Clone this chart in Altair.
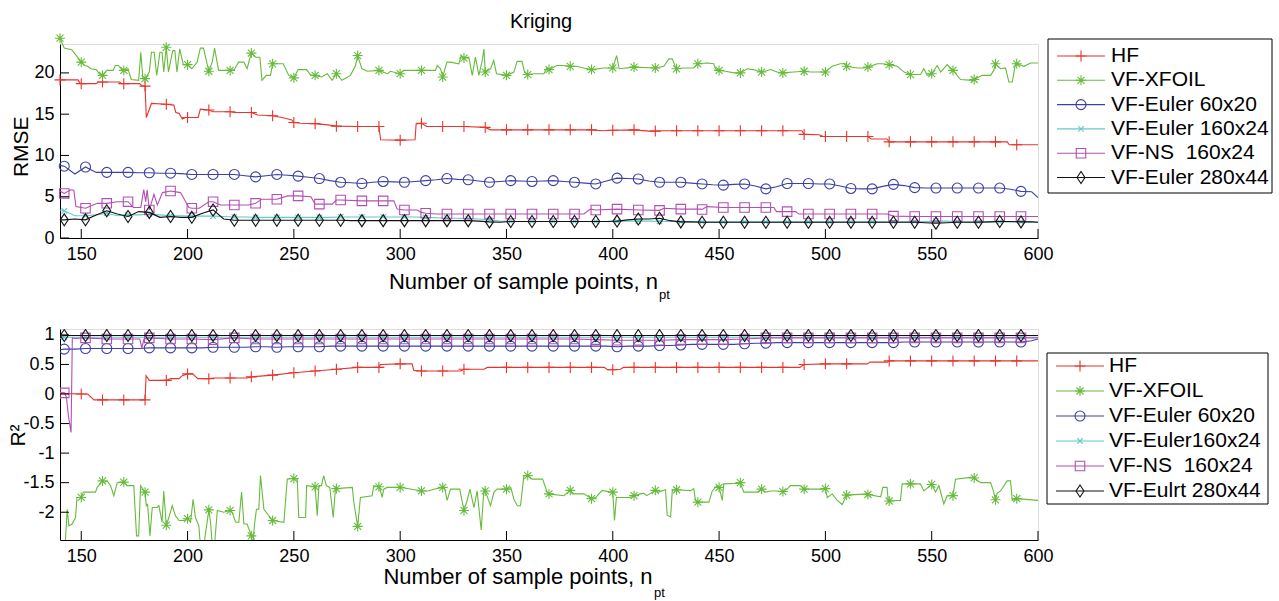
import altair as alt
import pandas as pd

FONT = "Liberation Sans"
W, H1, H2 = 978, 194, 211

X_TICKS = [150, 200, 250, 300, 350, 400, 450, 500, 550, 600]
Y1_TICKS = [0, 5, 10, 15, 20]
Y2_TICKS = [-2, -1.5, -1, -0.5, 0, 0.5, 1]

NAMES_TOP = ["HF", "VF-XFOIL", "VF-Euler 60x20", "VF-Euler 160x24", "VF-NS\u00a0 160x24", "VF-Euler 280x44"]
NAMES_BOT = ["HF", "VF-XFOIL", "VF-Euler 60x20", "VF-Euler160x24", "VF-NS\u00a0 160x24", "VF-Eulrt 280x44"]
COLORS = ["#e8342c", "#66bb3c", "#3c40a2", "#66c8c8", "#b24fb2", "#111111"]
SHAPES = [
    ("M-1,0L1,0M0,-1L0,1", 121),
    ("M-1,0L1,0M0,-1L0,1M-0.7,-0.7L0.7,0.7M-0.7,0.7L0.7,-0.7", 100),
    ("circle", 100),
    ("M-1,-1L1,1M-1,1L1,-1", 30),
    ("square", 90),
    ("M0,-1L0.66,0L0,1L-0.66,0Z", 144),
]

# common x grid for the smoother series (markers every 10 from 142)
X_GRID = [140] + list(range(142, 598, 5)) + [600]

# ---------------- RMSE panel ----------------
HF_TOP = [(140, 19.15), (148.5, 19.15), (149.5, 18.7), (150, 18.7), (157, 18.7), (158, 18.9), (160, 18.9),
          (168, 18.9), (169, 18.7), (170, 18.7), (177.5, 18.7), (178.5, 18.45), (180, 18.4), (180.6, 14.6),
          (183, 16.3), (190, 16.2), (193.5, 16.1), (194.5, 15.2), (196, 15.1), (197.5, 14.4), (199, 14.6),
          (200, 14.6), (205, 14.6), (206, 15.6), (210, 15.5), (212, 15.3), (220, 15.3), (222, 15.2),
          (230, 15.2), (233, 14.9), (240, 14.8), (246, 14.5), (249, 14.3), (250, 14.0), (253, 13.9),
          (260, 13.85), (266, 13.7), (270, 13.55), (280, 13.5), (290, 13.5), (290.8, 11.9), (300, 11.85),
          (307, 11.9), (307.5, 13.8), (310, 13.9), (312.5, 13.5), (320, 13.5), (330, 13.5), (340, 13.4),
          (342.5, 13.1), (350, 13.1), (360, 13.1), (370, 13.1), (380, 13.1), (390, 13.1), (395, 13.0),
          (400, 13.05), (410, 13.1), (417, 12.95), (420, 12.95), (424, 13.0), (430, 13.0), (440, 13.0),
          (450, 13.0), (460, 13.0), (470, 13.0), (480, 13.0), (489, 13.0), (490, 12.55), (497, 12.5),
          (499, 12.3), (500, 12.3), (510, 12.3), (520, 12.3), (521.5, 12.0), (529, 12.0), (530, 11.65),
          (540, 11.65), (550, 11.65), (560, 11.65), (570, 11.65), (580, 11.65), (585.5, 11.65),
          (586.5, 11.3), (590, 11.3), (600, 11.3)]

XFOIL_TOP = [(140, 24.2), (142, 23.0), (145.5, 22.8), (148, 22.0), (150, 21.3), (151.5, 20.9), (153, 20.8),
             (154.5, 20.5), (157, 20.4), (158.5, 19.9), (160, 19.7), (162, 20.3), (165, 20.3), (166, 20.9),
             (167.5, 20.9), (169, 20.4), (170, 20.3), (172, 20.5), (173.5, 19.2), (177, 19.1), (178, 22.5),
             (179, 19.3), (180, 19.3), (182, 20.1), (183, 22.5), (184.3, 22.5), (185.5, 19.7), (187, 22.5),
             (188, 22.5), (188.8, 20.1), (190, 23.1), (191, 20.1), (193, 22.7), (194, 22.7), (195, 20.1),
             (196.3, 22.9), (198, 21.0), (200, 21.0), (202, 20.5), (204.5, 21.3), (206, 23.0), (207.5, 23.0),
             (209, 21.3), (210, 20.2), (211.6, 21.3), (212.7, 23.0), (214.6, 20.3), (218, 20.3), (220, 20.3),
             (222, 20.4), (224, 21.3), (226.5, 21.3), (228, 20.5), (229, 21.5), (230, 22.4), (232, 21.9),
             (234, 21.9), (235, 19.1), (237, 19.7), (239, 19.7), (240, 21.1), (245, 21.1), (247.6, 19.7),
             (250, 19.4), (252, 20.4), (256, 20.4), (258, 19.7), (260, 19.7), (263, 19.5), (265.7, 19.9),
             (268, 19.1), (270, 19.9), (272.6, 19.1), (276.6, 19.7), (279, 20.9), (280, 22.1), (282, 20.5),
             (284.5, 20.2), (290, 20.3), (294, 19.9), (295.4, 20.2), (300, 19.9), (301.7, 20.3), (308, 20.3),
             (310, 20.3), (316.6, 20.3), (317.4, 20.9), (319, 20.5), (320, 19.5), (322, 21.3), (323.6, 21.3),
             (327.6, 21.1), (328.7, 22.1), (330, 21.8), (332.3, 21.9), (333.9, 19.7), (335.4, 21.9),
             (337, 19.7), (338.6, 21.5), (339.4, 22.9), (340, 20.1), (342.5, 20.5), (344, 21.5), (345.3, 19.9),
             (350, 19.7), (353.5, 20.1), (355, 21.4), (357.3, 21.4), (358.5, 20.1), (360, 19.8), (363, 19.9),
             (367.6, 19.9), (369, 20.6), (370, 20.4), (373.8, 20.9), (377, 20.9), (380, 20.8), (383, 20.8),
             (386.3, 20.6), (390, 20.4), (395.8, 20.6), (400, 20.6), (401.8, 22.1), (403, 20.5), (410, 20.7),
             (420, 20.6), (424, 20.8), (426.4, 21.7), (428, 21.7), (429.5, 20.7), (430, 20.5), (433, 20.6),
             (438, 20.6), (440, 21.1), (444.4, 21.2), (447.5, 21.1), (448.3, 20.5), (450, 20.3), (453, 20.2),
             (457, 20.0), (460, 20.0), (463.2, 20.5), (466, 20.4), (470, 20.1), (474.2, 20.4), (477.3, 20.1),
             (480, 20.0), (485, 20.1), (490, 20.2), (493, 20.1), (500, 20.1), (503.2, 20.8), (507, 21.1),
             (509.5, 21.1), (510, 20.8), (515, 20.6), (518, 20.6), (520, 20.7), (524.4, 21.1), (526.7, 21.1),
             (530, 21.0), (533.8, 20.8), (537, 20.1), (540, 19.8), (544.8, 19.8), (546.3, 20.5), (547.9, 19.7),
             (550, 19.9), (552.6, 20.9), (554.2, 20.1), (557.3, 21.0), (558.9, 20.5), (560, 20.3),
             (563.6, 19.2), (569, 19.1), (570, 19.2), (573.8, 19.7), (577.7, 19.7), (579.2, 20.3), (580, 21.1),
             (582.4, 20.5), (584.7, 20.6), (586.3, 18.9), (587.9, 18.9), (589.4, 21.1), (590, 21.1),
             (593.4, 20.8), (596.5, 21.2), (600, 21.2)]

E60_TOP = [8.8, 8.7, 7.75, 8.6, 7.95, 7.95, 7.95, 7.95, 7.9, 7.9,
           7.85, 7.85, 7.8, 7.7, 7.7, 7.7, 7.7, 7.7, 7.55, 7.4,
           7.55, 7.7, 7.6, 7.5, 7.35, 7.2, 6.95, 6.75, 6.7, 6.6,
           6.75, 6.85, 6.8, 6.75, 6.85, 6.95, 7.05, 7.2, 7.1, 7.05,
           6.9, 6.75, 6.85, 6.95, 6.9, 6.85, 6.9, 6.95, 6.85, 6.75,
           6.65, 6.55, 6.9, 7.25, 7.2, 7.15, 6.9, 6.75, 6.75, 6.75,
           6.65, 6.55, 6.45, 6.4, 6.5, 6.55, 6.3, 5.95, 6.2, 6.6,
           6.6, 6.6, 6.55, 6.55, 6.3, 6.0, 5.95, 5.95, 6.25, 6.5,
           6.35, 6.1, 6.05, 6.05, 6.05, 6.05, 6.05, 6.05, 6.05, 6.05,
           5.9, 5.65, 5.6, 4.9]

E160_TOP = [3.4, 3.3, 2.7, 2.7, 2.8, 3.0, 2.7, 2.8, 2.8, 2.9,
            2.8, 2.7, 2.7, 2.65, 2.65, 2.65, 2.6, 2.55, 2.55, 2.5,
            2.5, 2.5, 2.5, 2.5, 2.5, 2.5, 2.5, 2.55, 2.55, 2.55,
            2.55, 2.55, 2.55, 2.55, 2.55, 2.5, 2.45, 2.4, 2.4, 2.35,
            2.3, 2.2, 2.05, 2.0, 2.0, 2.0, 2.0, 2.0, 2.0, 2.0,
            2.0, 2.0, 2.0, 2.0, 2.05, 2.05, 2.05, 2.0, 2.0, 1.95,
            1.95, 1.95, 1.95, 1.95, 1.95, 1.95, 1.95, 1.95, 1.95, 1.95,
            1.95, 1.95, 1.95, 1.95, 1.95, 1.95, 1.95, 1.95, 1.95, 1.95,
            1.95, 2.0, 2.0, 2.05, 2.05, 2.0, 1.95, 1.95, 1.95, 1.95,
            1.95, 1.95, 1.95, 1.9]

NS_TOP = [(140, 5.7), (142, 5.4), (145, 5.85), (146.5, 5.8), (147.5, 3.8), (152, 3.6), (157.5, 4.2), (162, 4.2),
          (167, 4.4), (172, 4.4), (174.5, 3.7), (178, 3.7), (179.4, 5.85), (180.3, 4.4), (181, 5.85),
          (182, 3.4), (184.2, 5.3), (185.8, 4.0), (188.2, 5.5), (192, 5.7), (196.7, 5.5), (199.1, 4.4),
          (200.6, 3.7), (202, 3.6), (205.5, 3.6), (210, 4.4), (212, 4.4), (215.5, 4.0), (222, 4.0),
          (228.6, 4.0), (232, 4.2), (234.8, 4.7), (242, 4.7), (247, 5.1), (252, 5.1), (258, 5.0),
          (260, 4.1), (262, 4.1), (268, 4.1), (270, 4.6), (272, 4.6), (282, 4.5), (292, 4.5), (297, 4.5),
          (298.6, 3.5), (302, 3.4), (308, 3.4), (310, 3.1), (312, 3.0), (317, 2.9), (322, 2.9), (332, 2.9),
          (342, 2.9), (352, 2.9), (362, 2.9), (372, 2.9), (382, 2.9), (386.4, 2.9), (389.5, 3.5), (392, 3.4),
          (402, 3.5), (412, 3.4), (422, 3.35), (424, 3.6), (432, 3.5), (441.3, 3.5), (442, 3.45),
          (444.4, 3.8), (452, 3.7), (462, 3.7), (472, 3.7), (475.8, 3.7), (477, 3.2), (482, 3.2), (486, 3.2),
          (487.5, 2.9), (492, 2.9), (502, 2.9), (512, 2.9), (522, 2.9), (529, 2.9), (532, 2.65), (542, 2.6),
          (552, 2.6), (562, 2.6), (572, 2.6), (582, 2.6), (592, 2.6), (600, 2.6)]

E280_TOP = [2.2, 2.2, 2.3, 2.2, 2.8, 3.3, 2.9, 2.6, 3.2, 3.1,
            2.5, 2.6, 2.5, 2.5, 3.0, 3.4, 2.3, 2.15, 2.15, 2.15,
            2.15, 2.15, 2.15, 2.15, 2.15, 2.15, 2.15, 2.15, 2.1, 2.1,
            2.1, 2.1, 2.1, 2.1, 2.1, 2.1, 2.1, 2.1, 2.1, 2.1,
            2.05, 1.95, 1.9, 2.0, 2.0, 2.0, 2.0, 2.0, 2.0, 2.0,
            2.0, 2.0, 2.0, 2.05, 2.2, 2.3, 2.3, 2.4, 2.1, 1.95,
            1.95, 1.9, 1.9, 1.9, 1.9, 1.9, 1.9, 1.9, 1.9, 1.9,
            1.9, 1.9, 1.9, 1.9, 1.9, 1.9, 1.9, 1.9, 1.9, 1.9,
            1.9, 1.9, 1.85, 1.8, 1.85, 1.9, 1.9, 1.9, 1.95, 2.0,
            2.0, 1.95, 1.95, 1.9]

# ---------------- R^2 panel ----------------
HF_BOT = [(140, 0.01), (150, 0.0), (153, 0.0), (156, -0.1), (160, -0.1), (170, -0.1), (180, -0.1),
          (180.5, 0.31), (182, 0.23), (190, 0.23), (192, 0.26), (196, 0.26), (197.5, 0.31), (200, 0.34),
          (202.4, 0.34), (204.8, 0.26), (210, 0.26), (212.3, 0.27), (220, 0.27), (228, 0.27), (230, 0.29),
          (240, 0.32), (250, 0.36), (260, 0.39), (270, 0.42), (280, 0.45), (290, 0.45), (290.7, 0.5),
          (300, 0.51), (305.6, 0.51), (306.4, 0.4), (310, 0.39), (320, 0.39), (328.4, 0.39), (330, 0.42),
          (339.4, 0.42), (341, 0.45), (350, 0.45), (360, 0.45), (370, 0.45), (380, 0.45), (390, 0.45),
          (396, 0.45), (397.5, 0.41), (400, 0.41), (403.6, 0.42), (405, 0.45), (410, 0.45), (420, 0.45),
          (430, 0.45), (440, 0.45), (450, 0.45), (460, 0.45), (470, 0.45), (480, 0.45), (488, 0.45),
          (490, 0.5), (500, 0.51), (510, 0.51), (519.7, 0.51), (521, 0.54), (529, 0.54), (530, 0.56),
          (540, 0.56), (550, 0.56), (560, 0.56), (570, 0.56), (580, 0.56), (590, 0.56), (600, 0.56)]

XFOIL_BOT = [(140, -2.6), (142.5, -2.5), (143.4, -1.95), (144.2, -2.23), (145.7, -2.2), (147.3, -2.09),
             (148, -1.75), (150, -1.75), (151, -1.66), (156.7, -1.66), (157.5, -1.58), (160, -1.47),
             (160.8, -1.5), (162.2, -1.47), (163.8, -1.55), (165.3, -1.72), (166.9, -1.5), (170, -1.49),
             (171.6, -1.55), (174.7, -1.55), (176, -2.4), (177, -2.4), (177.9, -1.55), (180, -1.66),
             (180.6, -1.89), (181.2, -1.87), (182.3, -2.4), (183.4, -1.92), (185.7, -1.92), (186.5, -1.89),
             (188, -2.17), (188.8, -1.64), (190, -2.22), (191.2, -2.09), (192.8, -1.89), (194.3, -2.06),
             (196, -2.14), (198.3, -2.14), (200, -2.11), (201.4, -2.17), (202.6, -1.78), (203.7, -2.09),
             (205.3, -2.23), (206, -2.55), (207.7, -2.55), (210, -1.96), (210.8, -2.17), (211.6, -2.55),
             (212.7, -2.55), (214, -1.97), (217, -2.0), (220, -1.97), (221, -2.0), (222.6, -2.17),
             (224.1, -2.17), (225.4, -1.66), (226.5, -2.2), (228, -2.2), (230, -2.4), (230.8, -2.55),
             (231.4, -2.23), (232.4, -1.95), (233.5, -1.95), (234.3, -1.38), (235.9, -1.95), (240, -2.14),
             (245.3, -2.17), (246.9, -1.44), (250, -1.43), (251.6, -1.44), (252.3, -2.09), (255.5, -2.09),
             (256, -1.55), (260, -1.57), (261, -2.06), (261.8, -1.55), (263, -1.55), (264, -1.38),
             (265.3, -1.55), (266.9, -1.58), (268.5, -2.09), (269.6, -1.58), (270, -1.6), (277.5, -1.58),
             (278.2, -1.83), (280, -2.24), (281.3, -1.75), (286.8, -1.72), (287.6, -1.55), (290, -1.57),
             (290.8, -1.64), (291.5, -1.75), (292.3, -1.61), (293.9, -1.58), (300, -1.58), (303.4, -1.6),
             (310, -1.64), (313, -1.64), (315.8, -1.61), (320, -1.58), (321, -1.61), (322.1, -1.8),
             (323.7, -1.61), (328, -1.61), (330, -1.97), (331.5, -1.8), (332.8, -1.61), (334.7, -1.92),
             (336.2, -1.64), (338.1, -2.3), (339.4, -1.61), (340, -1.64), (342.5, -1.89), (344.1, -1.66),
             (345.6, -1.61), (350, -1.61), (352, -1.58), (353.5, -1.78), (355.1, -1.89), (356.6, -1.89),
             (358.2, -1.38), (360, -1.38), (362, -1.44), (367, -1.44), (369.1, -1.66), (370, -1.69),
             (377, -1.72), (380, -1.63), (381, -1.69), (386.4, -1.69), (390, -1.77), (392, -1.75),
             (395, -1.63), (399, -1.66), (400, -1.66), (400.8, -2.14), (401.7, -1.75), (408.3, -1.75),
             (410, -1.72), (413, -1.69), (414.6, -1.68), (416, -1.72), (420, -1.63), (421.5, -1.66),
             (424.8, -1.62), (425.6, -2.05), (427.2, -2.08), (428, -1.63), (430, -1.62), (436.6, -1.635),
             (438.1, -1.6), (438.9, -1.8), (440, -1.83), (445.2, -1.83), (446.8, -1.64), (449.1, -1.55),
             (450, -1.58), (451.5, -1.8), (452.2, -1.52), (459.3, -1.51), (460, -1.5), (461.6, -1.66),
             (467.9, -1.66), (470, -1.61), (471.8, -1.66), (474.2, -1.64), (477.3, -1.64), (480, -1.65),
             (482, -1.61), (483.6, -1.55), (488.3, -1.55), (490, -1.61), (498.5, -1.61), (500, -1.6),
             (500.9, -1.75), (503.2, -1.69), (505.6, -1.8), (507.9, -1.87), (510, -1.71), (519.7, -1.69),
             (520, -1.7), (526, -1.74), (527, -1.58), (529, -1.58), (529.5, -1.78), (530, -1.81),
             (535.3, -1.8), (536.1, -1.52), (540, -1.52), (544.7, -1.52), (546.3, -1.64), (550, -1.53),
             (551.8, -1.66), (553.4, -1.55), (555.7, -1.86), (557.3, -1.72), (560, -1.72), (561.2, -1.44),
             (568.3, -1.41), (570, -1.42), (573, -1.5), (577.7, -1.5), (579.2, -1.66), (580, -1.79),
             (580.8, -1.68), (582.4, -1.64), (585.5, -1.47), (587.1, -1.47), (587.9, -1.8), (590, -1.77),
             (600, -1.8)]

E60_BOT = [0.75, 0.76, 0.76, 0.77, 0.77, 0.77, 0.77, 0.77, 0.77, 0.78,
           0.78, 0.78, 0.78, 0.78, 0.78, 0.79, 0.79, 0.79, 0.79, 0.8,
           0.8, 0.79, 0.8, 0.8, 0.8, 0.8, 0.81, 0.81, 0.81, 0.81,
           0.81, 0.81, 0.81, 0.81, 0.81, 0.81, 0.81, 0.81, 0.81, 0.81,
           0.81, 0.81, 0.81, 0.81, 0.81, 0.81, 0.81, 0.81, 0.81, 0.81,
           0.81, 0.81, 0.81, 0.8, 0.81, 0.81, 0.81, 0.82, 0.82, 0.83,
           0.84, 0.84, 0.84, 0.84, 0.84, 0.85, 0.86, 0.86, 0.87, 0.87,
           0.87, 0.87, 0.87, 0.87, 0.87, 0.87, 0.87, 0.87, 0.87, 0.87,
           0.88, 0.88, 0.88, 0.88, 0.88, 0.88, 0.88, 0.88, 0.88, 0.88,
           0.88, 0.88, 0.9, 0.93]

E160_BOT = [0.94, 0.96, 0.96, 0.96, 0.96, 0.96, 0.96, 0.96, 0.96, 0.96,
            0.96, 0.96, 0.96, 0.96, 0.96, 0.96, 0.96, 0.96, 0.96, 0.96,
            0.96, 0.96, 0.96, 0.96, 0.96, 0.96, 0.96, 0.96, 0.96, 0.96,
            0.96, 0.96, 0.96, 0.96, 0.96, 0.96, 0.96, 0.96, 0.96, 0.96,
            0.96, 0.96, 0.96, 0.96, 0.96, 0.96, 0.96, 0.96, 0.96, 0.96,
            0.96, 0.96, 0.96, 0.96, 0.96, 0.96, 0.96, 0.96, 0.96, 0.96,
            0.96, 0.96, 0.96, 0.96, 0.96, 0.96, 0.96, 0.96, 0.96, 0.96,
            0.96, 0.96, 0.96, 0.96, 0.96, 0.96, 0.96, 0.96, 0.96, 0.96,
            0.96, 0.96, 0.96, 0.96, 0.96, 0.96, 0.96, 0.96, 0.96, 0.96,
            0.96, 0.96, 0.96, 0.96]

NS_BOT = [(140, 0.02), (142, 0.02), (143, -0.05), (144, -0.38), (145.2, -0.65), (145.8, 0.95), (147, 0.94),
          (152, 0.95), (162, 0.93), (172, 0.93), (177.5, 0.93), (178.5, 0.78), (179.5, 0.93), (182, 0.95),
          (192, 0.93), (202, 0.93), (212, 0.92), (222, 0.95), (232, 0.93), (242, 0.93), (252, 0.93),
          (262, 0.93), (272, 0.93), (282, 0.93), (292, 0.93), (302, 0.93), (312, 0.93), (322, 0.93),
          (332, 0.93), (342, 0.93), (352, 0.93), (362, 0.93), (372, 0.93), (382, 0.93), (392, 0.92),
          (402, 0.91), (412, 0.91), (422, 0.91), (432, 0.92), (442, 0.92), (452, 0.92), (462, 0.93),
          (472, 0.95), (482, 0.95), (492, 0.95), (502, 0.95), (512, 0.95), (522, 0.95), (532, 0.95),
          (542, 0.95), (552, 0.95), (562, 0.95), (572, 0.95), (582, 0.95), (592, 0.95), (600, 0.95)]

E280_BOT = [0.98, 0.99, 0.99, 0.99, 0.99, 0.99, 0.99, 0.99, 0.99, 0.99,
            0.99, 0.99, 0.99, 0.99, 0.99, 0.99, 0.99, 0.99, 0.99, 0.99,
            0.99, 0.99, 0.99, 0.99, 0.99, 0.99, 0.99, 0.99, 0.99, 0.99,
            0.99, 0.99, 0.99, 0.99, 0.99, 0.99, 0.99, 0.99, 0.99, 0.99,
            0.99, 0.99, 0.99, 0.99, 0.99, 0.99, 0.99, 0.99, 0.99, 0.99,
            0.99, 0.99, 0.99, 0.99, 0.99, 0.99, 0.99, 0.99, 0.99, 0.99,
            0.99, 0.99, 0.99, 0.99, 0.99, 0.99, 0.99, 0.99, 0.99, 0.99,
            0.99, 0.99, 0.99, 0.99, 0.99, 0.99, 0.99, 0.99, 0.99, 0.99,
            0.99, 0.99, 0.99, 0.99, 0.99, 0.99, 0.99, 0.99, 0.99, 0.99,
            0.99, 0.99, 0.99, 0.99]

for arr in (E60_TOP, E160_TOP, E280_TOP, E60_BOT, E160_BOT, E280_BOT):
    assert len(arr) == len(X_GRID), len(arr)

MK_A = "datum.x % 10 == 0 && datum.x <= 590"
MK_B = "(datum.x - 142) % 10 == 0 && datum.x >= 142 && datum.x <= 592"

XS = alt.Scale(domain=[140, 600], nice=False, zero=False)


def axis_x():
    return alt.Axis(values=X_TICKS, title=None, grid=False, ticks=False, labelFontSize=18, labelFont=FONT,
                    labelColor="black", labelPadding=7, domainColor="black", domainWidth=1,
                    labelFlush=False, labelOverlap=False)


def axis_y(vals):
    return alt.Axis(values=vals, title=None, grid=False, ticks=False, labelFontSize=18, labelFont=FONT,
                    labelColor="black", labelPadding=6, domainColor="black", domainWidth=1, format="~g",
                    labelExpr="replace(datum.label, '\u2212', '-')", labelOverlap=False, labelFlush=False)


def grid_pts(ys):
    return list(zip(X_GRID, ys))


def text_layer(txt, x, y, size, align="center", baseline="alphabetic", angle=0):
    return alt.Chart(pd.DataFrame({"t": [txt]})).mark_text(
        fontSize=size, font=FONT, align=align, baseline=baseline, angle=angle, color="black"
    ).encode(text="t:N", x=alt.value(x), y=alt.value(y))


def panel(series, H, ydom, yticks, clip, names, leg, extras, anchor=False):
    YS = alt.Scale(domain=ydom, nice=False, zero=False)
    XE = lambda f: alt.X(f"{f}:Q", scale=XS, axis=axis_x())
    YE = lambda f: alt.Y(f"{f}:Q", scale=YS, axis=axis_y(yticks))
    one = pd.DataFrame({"k": [0]})
    layers = []
    if anchor:
        layers.append(alt.Chart(one).mark_rect(fill="white").encode(
            x=alt.value(-59), x2=alt.value(0), y=alt.value(-43), y2=alt.value(0)))
    for (pts, mk), color, (shape, size) in zip(series, COLORS, SHAPES):
        df = pd.DataFrame(pts, columns=["x", "y"])
        layers.append(alt.Chart(df).mark_line(color=color, strokeWidth=1.1, clip=clip).encode(
            x=XE("x"), y=YE("y")))
        layers.append(alt.Chart(df).transform_filter(mk).mark_point(
            shape=shape, size=size, filled=False, color=color, strokeWidth=1.1, opacity=1, clip=clip
        ).encode(x=XE("x"), y=YE("y")))
    layers.append(alt.Chart(pd.DataFrame({"t": X_TICKS})).mark_rule(color="black", strokeWidth=1).encode(
        x=XE("t"), y=alt.value(H), y2=alt.value(H - 9)))
    layers.append(alt.Chart(pd.DataFrame({"t": yticks})).mark_rule(color="black", strokeWidth=1).encode(
        y=YE("t"), x=alt.value(0), x2=alt.value(9)))
    bx0, bx1, by0, by1, row0, step, lx0, lx1, lm, lt = leg
    layers.append(alt.Chart(one).mark_rect(fill="white", stroke="black", strokeWidth=1).encode(
        x=alt.value(bx0), x2=alt.value(bx1), y=alt.value(by0), y2=alt.value(by1)))
    for i, (name, color, (shape, size)) in enumerate(zip(names, COLORS, SHAPES)):
        yy = row0 + i * step
        layers.append(alt.Chart(one).mark_rule(color=color, strokeWidth=1.1).encode(
            x=alt.value(lx0), x2=alt.value(lx1), y=alt.value(yy)))
        layers.append(alt.Chart(one).mark_point(shape=shape, size=size, filled=False, color=color,
                                                strokeWidth=1.1, opacity=1).encode(
            x=alt.value(lm), y=alt.value(yy)))
        layers.append(text_layer(name, lt, yy, 21, align="left", baseline="middle"))
    layers.extend(extras)
    return alt.layer(*layers).properties(width=W, height=H)


top_series = [(HF_TOP, MK_A), (XFOIL_TOP, MK_A), (grid_pts(E60_TOP), MK_B), (grid_pts(E160_TOP), MK_B),
              (NS_TOP, MK_B), (grid_pts(E280_TOP), MK_B)]
bot_series = [(HF_BOT, MK_A), (XFOIL_BOT, MK_A), (grid_pts(E60_BOT), MK_B), (grid_pts(E160_BOT), MK_B),
              (NS_BOT, MK_B), (grid_pts(E280_BOT), MK_B)]

top_extras = [
    text_layer("Kriging", 481, -16.3, 20),
    text_layer("Number of sample points, n", 463.5, 245.3, 22),
    text_layer("pt", 599, 255, 13, align="left"),
    text_layer("RMSE", -38.3, 102.7, 21, baseline="middle", angle=270),
]
bot_extras = [
    text_layer("Number of sample points, n", 458, 255.3, 22),
    text_layer("pt", 594, 268, 13, align="left"),
    text_layer("R\u00b2", -41.5, 106.5, 21, baseline="middle", angle=270),
]

top = panel(top_series, H1, [0, 23.5], Y1_TICKS, False, NAMES_TOP,
            (988, 1212, -5, 149, 12, 24.3, 997, 1045, 1021, 1051), top_extras, anchor=True)
bot = panel(bot_series, H2, [-2.47, 1.1], Y2_TICKS, True, NAMES_BOT,
            (987, 1208, 24, 175, 37, 25, 996, 1044, 1020, 1049), bot_extras)

chart = alt.vconcat(top, bot, spacing=91, bounds="flush").properties(padding=0).configure_view(
    stroke=None).configure(font=FONT, background="white")

chart.save("out.html", embed_options={"renderer": "svg", "actions": False})
